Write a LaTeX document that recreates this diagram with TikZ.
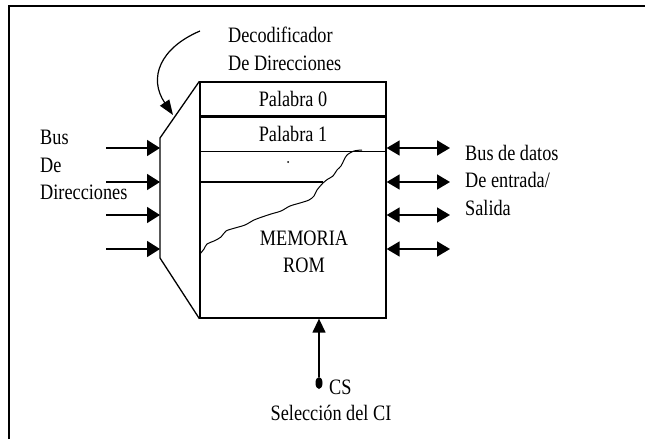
\documentclass[tikz,border=0pt]{standalone}
\usepackage{fontspec}
\setmainfont{Liberation Serif}[FakeStretch=0.83]
\usetikzlibrary{arrows.meta, positioning, shapes.geometric}

\begin{document}
\begin{tikzpicture}[
  x=1pt, y=-1pt,
  texto/.style={inner sep=0pt, align=left, font=\fontsize{22}{27.5}\selectfont},
  caja/.style={rectangle, draw, line width=1.3pt, minimum width=186pt,
               minimum height=236pt, inner sep=0pt},
  fila/.style={rectangle, draw, line width=1.3pt, minimum width=186pt,
               minimum height=34pt, inner sep=0pt, anchor=north,
               font=\fontsize{22}{27.5}\selectfont},
  flecha/.style={-{Triangle[length=13pt, width=16pt]}, line width=1.6pt},
  dflecha/.style={{Triangle[length=13pt, width=15pt]}-{Triangle[length=13pt, width=15pt]},
                  line width=1.6pt},
]
\useasboundingbox (0,0) rectangle (645,439);

% ---- marco ----
\draw[line width=1.6pt] (9,439) -- (9,6) -- (645,6);

% ---- memoria ----
\node[caja] (rom) at (293,200) {};
\node[fila, at={(rom.north)}] (p0) {Palabra 0};
\node[fila, below=0pt of p0] (p1) {Palabra 1};
\coordinate (corte) at (323,182);
\draw[line width=1.3pt] (corte -| rom.west) -- (corte);
\draw[line width=1pt] plot[smooth, tension=0.5] coordinates {
  (200,254) (204,249) (207,244) (214,241) (221,237) (226,231) (235,228)
  (245,225) (254,220) (262,217) (271,214) (281,211) (290,206) (300,203)
  (309,200) (314,196) (317,190) (323,183) (328,179) (333,176) (337,170)
  (341,166) (344,160) (347,155) (354,151) (362,150)};
\fill (288,162) circle (1pt);
\node[texto, align=center] (mem) at (304,252) {MEMORIA\\ROM};

% ---- decodificador ----
\coordinate (dtop) at (160,138);
\coordinate (dbot) at (160,258);
\draw[line width=1.3pt] (rom.north west) -- (dtop) -- (dbot) -- (rom.south west);
\node[texto, anchor=west] (dec) at (228,49) {Decodificador\\De Direcciones};
\coordinate (curva) at (200,31);
\coordinate (punta) at (173,115);
\draw[-{Triangle[length=15pt, width=11pt]}, line width=1.2pt]
  (curva) .. controls (160,48) and (148,78) .. (punta);

% ---- buses ----
\foreach \y/\n in {148/1, 182/2, 215/3, 249/4} {
  \coordinate (in\n) at (106,\y);
  \coordinate (out\n) at (450,\y);
  \draw[flecha] (in\n) -- (in\n -| dtop);
  \draw[dflecha] (out\n -| rom.east) -- (out\n);
}
\node[texto, anchor=west] (dir) at (40,165) {Bus\\De\\Direcciones};
\node[texto, anchor=west] (datos) at (465,180) {Bus de datos\\De entrada/\\Salida};

% ---- seleccion ----
\node[ellipse, fill, minimum width=7pt, minimum height=12pt, inner sep=0pt] (cs) at (319,383) {};
\draw[-{Triangle[length=14pt, width=13pt]}, line width=1.4pt] (cs) -- (cs |- rom.south);
\node[texto, anchor=west] (cstxt) at (329,387) {CS};
\node[texto] (sel) at (331,413) {Selección del CI};

\end{tikzpicture}
\end{document}
